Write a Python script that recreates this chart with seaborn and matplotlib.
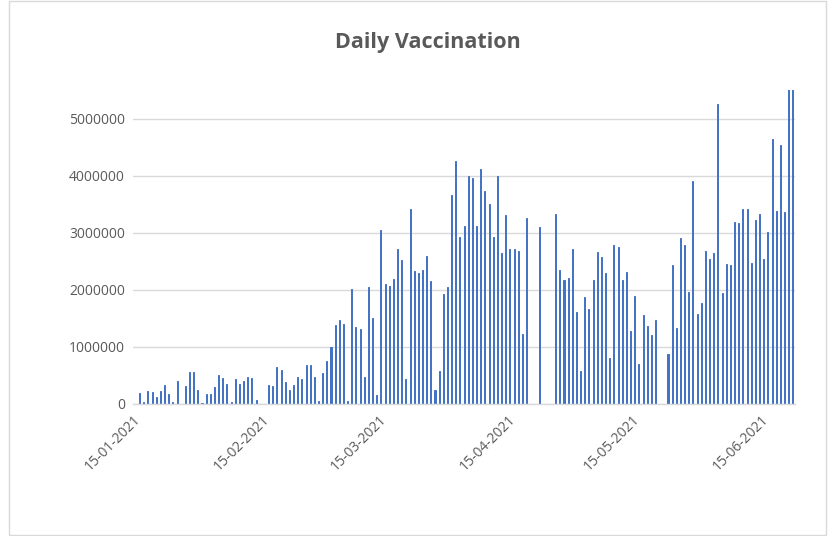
import pandas as pd
import numpy as np
import matplotlib
matplotlib.use('Agg')
import matplotlib.pyplot as plt
import seaborn as sns
from matplotlib.patches import Rectangle

# Daily doses, 15-01-2021 to 22-06-2021 (0 = no bar shown)
jan_doses = [0, 190000, 30000, 220000, 210000, 120000, 220000, 340000, 180000, 30000,
             400000, 0, 320000, 560000, 560000, 240000, 20000]
feb_doses = [180000, 180000, 300000, 500000, 450000, 350000, 40000, 430000, 350000, 400000,
             480000, 460000, 70000, 0, 0, 330000, 320000, 650000, 600000, 380000,
             240000, 330000, 470000, 440000, 690000, 680000, 480000, 50000]
mar_doses = [540000, 760000, 990000, 1380000, 1480000, 1410000, 50000, 2010000, 1340000, 1310000,
             470000, 2050000, 1510000, 150000, 3040000, 2100000, 2070000, 2190000, 2710000, 2530000,
             440000, 3420000, 2330000, 2300000, 2350000, 2600000, 2150000, 250000, 580000, 1930000,
             2050000]
apr_doses = [3670000, 4260000, 2920000, 3120000, 4000000, 3960000, 3120000, 4120000, 3730000, 3510000,
             2920000, 4000000, 2640000, 3310000, 2720000, 2710000, 2680000, 1220000, 3260000, 0,
             0, 3100000, 0, 0, 0, 3330000, 2350000, 2170000, 2210000, 2720000]
may_doses = [1610000, 580000, 1870000, 1660000, 2180000, 2660000, 2580000, 2300000, 800000, 2780000,
             2750000, 2180000, 2310000, 1280000, 1890000, 700000, 1560000, 1370000, 1210000, 1470000,
             0, 0, 870000, 2440000, 1330000, 2910000, 2780000, 1960000, 3910000, 1570000,
             1770000]
jun_doses = [2680000, 2540000, 2650000, 5260000, 1950000, 2460000, 2440000, 3190000, 3170000, 3420000,
             3420000, 2470000, 3230000, 3320000, 2540000, 3020000, 4640000, 3380000, 4540000, 3370000,
             5900000, 6100000]

tick_dates = ['15-01-2021', '15-02-2021', '15-03-2021', '15-04-2021', '15-05-2021', '15-06-2021']
y_ticks = [0, 1000000, 2000000, 3000000, 4000000, 5000000]

doses = jan_doses + feb_doses + mar_doses + apr_doses + may_doses + jun_doses
dates = pd.date_range('2021-01-15', periods=len(doses), freq='D')
df = pd.DataFrame({'date': dates.strftime('%d-%m-%Y'), 'doses': doses})

sns.set_style('white')
plt.rcParams['font.family'] = ['Open Sans', 'DejaVu Sans']

fig = plt.figure(figsize=(8.35, 5.36), dpi=100)
ax = fig.add_axes([0.1597, 0.2463, 0.7923, 0.5857])
ax.set_axisbelow(True)

sns.barplot(x='date', y='doses', data=df, color='#4472C4', width=0.25,
            saturation=1, edgecolor='#4472C4', linewidth=0.7, ax=ax)

ax.set_ylim(0, 5500000)
ax.set_xlim(-0.5, len(doses) - 0.5)
ax.set_yticks(y_ticks)
ax.set_yticklabels([str(v) for v in y_ticks], fontsize=10, color='#595959')
ax.yaxis.grid(True, color='#D9D9D9', linewidth=1)

tick_pos = [list(df['date']).index(d) - 0.5 for d in tick_dates]
ax.set_xticks(tick_pos)
ax.set_xticklabels(tick_dates, rotation=45, ha='right', rotation_mode='anchor',
                   fontsize=10, color='#595959')
ax.tick_params(axis='x', direction='out', length=5, color='#D9D9D9', width=1, pad=1)
ax.tick_params(axis='y', length=0, pad=6)

for s in ['top', 'right', 'left']:
    ax.spines[s].set_visible(False)
ax.spines['bottom'].set_color('#D9D9D9')
ax.spines['bottom'].set_linewidth(1)

ax.set_xlabel('')
ax.set_ylabel('')
fig.text(0.513, 0.92, 'Daily Vaccination', ha='center', va='center',
         fontsize=15.5, fontweight='bold', color='#595959')

fig.patches.append(Rectangle((9 / 835, 1 / 536), 817 / 835, 534 / 536,
                             transform=fig.transFigure, fill=False,
                             edgecolor='#D9D9D9', linewidth=1))

fig.savefig('out.png', dpi=100)
